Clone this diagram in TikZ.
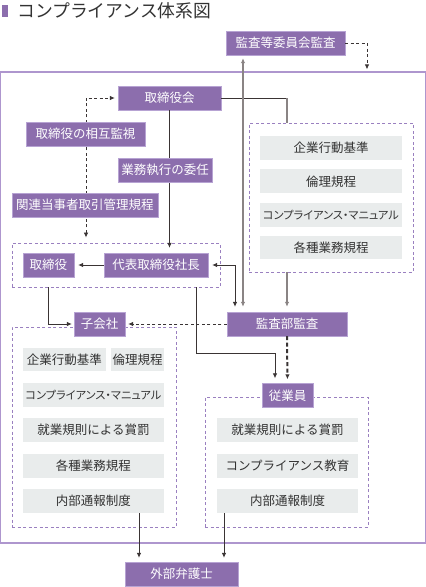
\documentclass[tikz,border=0pt]{standalone}
\usepackage{fontspec}
\setmainfont{Noto Sans CJK JP}
\newfontfamily\jpnarrow[RawFeature=+palt]{Noto Sans CJK JP}
\usepackage{tikz}
\usetikzlibrary{calc, positioning, arrows.meta}
\definecolor{kPurple}{HTML}{8C6EAD}
\definecolor{kEdge}{HTML}{B7A3D3}
\definecolor{kGroup}{HTML}{9A80C0}
\definecolor{kFrame}{HTML}{AE96CE}
\definecolor{kGray}{HTML}{E9ECEC}
\definecolor{kDark}{HTML}{3A3434}
\definecolor{kLine}{HTML}{8A8484}
\definecolor{kText}{HTML}{333333}

\begin{document}
\begin{tikzpicture}[
        x=1pt, y=-1pt,
        >={Latex[length=5pt, width=4.5pt]},
        % Styles
        head/.style  ={rectangle, draw=kEdge, fill=kPurple, text=white, minimum height=24pt, inner sep=0pt, font=\fontsize{12.5}{15}\selectfont},
        rule/.style  ={rectangle, fill=kGray, text=kText, minimum height=24pt, inner sep=0pt, font=\fontsize{12.5}{15}\selectfont},
        narrow/.style={font=\jpnarrow\fontsize{11.2}{15}\selectfont},
        group/.style ={rectangle, draw=kGroup, line width=0.9pt, dash pattern=on 3pt off 2.5pt, inner sep=0pt},
        frame/.style ={rectangle, draw=kFrame, line width=1.3pt, inner sep=0pt},
        line/.style  ={->, kDark, line width=0.8pt, shorten >=4pt},
        gline/.style ={kLine, line width=1.4pt},
        dline/.style ={->, kDark, line width=0.8pt, dash pattern=on 3pt off 2.5pt, shorten >=3pt},
        thickdash/.style={->, kDark, line width=2pt, dash pattern=on 4pt off 2.5pt, shorten >=4pt}
    ]
    \useasboundingbox (0,0) rectangle (426,587);

    % Title
    \node[fill=kPurple, minimum width=6pt, minimum height=12pt, inner sep=0pt] (titlebar) at (5,11) {};
    \node[anchor=west, inner sep=0pt, text=kText, font=\fontsize{17.8}{20}\selectfont] (title) at (17,11) {コンプライアンス体系図};

    % Outer frame and dashed groups
    \node[frame, minimum width=425pt, minimum height=471pt] (frame) at (213,307.5) {};
    \node[group, minimum width=164pt, minimum height=149pt] (gTop) at (331,197.5) {};
    \node[group, minimum width=208pt, minimum height=44pt] (gTori) at (116,265) {};
    \node[group, minimum width=164pt, minimum height=200pt] (gKo) at (94,427) {};
    \node[group, minimum width=163pt, minimum height=130pt] (gJu) at (286.5,462) {};

    % Main bodies
    \node[head, minimum width=119pt] (kansatou) at (285.5,43) {監査等委員会監査};
    \node[head, minimum width=103pt] (torikai) at (169.5,98) {取締役会};
    \node[head, minimum width=51pt] (torishimari) at (48.5,265) {取締役};
    \node[head, minimum width=104pt] (shachou) at (156,265) {代表取締役社長};
    \node[head, minimum width=120pt] (kansabu) at (287,324) {監査部監査};
    \node[head, minimum width=51pt] (kogaisha) at (99.5,324) {子会社};
    \node[head, minimum width=51pt] (juugyouin) at (287.5,395.5) {従業員};
    \node[head, minimum width=113pt] (bengoshi) at (181.5,574) {外部弁護士};

    % Lines running behind the labels
    \coordinate (mutual) at ($(gTori.north)+(-30,0)$);
    \draw[dline, <->, shorten <=5pt] (mutual) |- (torikai.west);
    \draw[line, shorten >=5pt] (torikai.south) -- (torikai |- shachou.north);

    % Labels on the lines
    \node[head, minimum width=119pt] (sougo) at (85.5,134) {取締役の相互監視};
    \node[head, minimum width=94pt] (inin) at (165,170) {業務執行の委任};
    \node[head, minimum width=146pt] (kanren) at (85,205) {関連当事者取引管理規程};

    % Rules of the company
    \node[rule, minimum width=142pt] (rKodo) at (331,148) {企業行動基準};
    \node[rule, minimum width=142pt, below=9pt of rKodo] (rRinri) {倫理規程};
    \node[rule, narrow, minimum width=142pt, below=9pt of rRinri] (rManual) {コンプライアンス・マニュアル};
    \node[rule, minimum width=142pt, minimum height=23pt, below=9pt of rManual] (rKakushu) {各種業務規程};

    % Rules of the subsidiaries
    \node[rule, minimum width=83pt, minimum height=23pt] (kKodo) at (64.5,359.5) {企業行動基準};
    \node[rule, minimum width=53pt, minimum height=23pt] (kRinri) at (137.5,359.5) {倫理規程};
    \node[rule, narrow, minimum width=141pt] (kManual) at (93.5,395) {コンプライアンス・マニュアル};
    \node[rule, minimum width=141pt] (kShobatsu) at (93.5,430) {就業規則による賞罰};
    \node[rule, minimum width=141pt] (kKakushu) at (93.5,466) {各種業務規程};
    \node[rule, minimum width=141pt] (kTsuho) at (93.5,501) {内部通報制度};

    % Rules for the employees
    \node[rule, minimum width=141pt] (jShobatsu) at (287.5,430) {就業規則による賞罰};
    \node[rule, minimum width=141pt] (jKyoiku) at (287.5,466) {コンプライアンス教育};
    \node[rule, minimum width=141pt] (jTsuho) at (287.5,501) {内部通報制度};

    % Connections
    \coordinate (audX) at ($(kansatou.south)+(-42.5,0)$);
    \coordinate (audY) at ($(kansabu.north)+(-52,0)$);
    \coordinate (frameIn) at ($(frame.north)+(154,0)$);
    \coordinate (lawL) at ($(bengoshi.north)+(-42.5,0)$);
    \coordinate (lawR) at ($(bengoshi.north)+(42.5,0)$);

    \draw[dline, shorten >=2pt] (kansatou.east) -| (frameIn);
    \draw[kDark, line width=0.9pt] (torikai.east) -- (kansabu |- torikai.east);
    \draw[gline] (kansabu |- torikai.east) -- (kansabu |- gTop.north);
    \draw[gline, <->, shorten <=3pt, shorten >=5pt] (audX) -- (audX |- kansabu.north);
    \draw[line, <->, shorten <=4pt, shorten >=5pt] (shachou.east) -| (audY);
    \draw[gline, ->, shorten >=5pt] (kansabu |- gTop.south) -- (kansabu.north);
    \draw[line] (shachou.west) -- (torishimari.east);
    \draw[dline] (kansabu.west) -- (kogaisha.east);
    \draw[line, shorten >=2pt] (torishimari |- gTori.south) |- (kogaisha.west);
    \draw[line, shorten >=5pt] ($(gTori.south)+(80,0)$) -- ++(0,66) -| ([xshift=-12.5pt]juugyouin.north);
    \draw[thickdash] (kansabu.south) -- (juugyouin.north);
    \draw[line] (lawL |- kTsuho.south) -- (lawL);
    \draw[line] (lawR |- jTsuho.south) -- (lawR);

\end{tikzpicture}
\end{document}
